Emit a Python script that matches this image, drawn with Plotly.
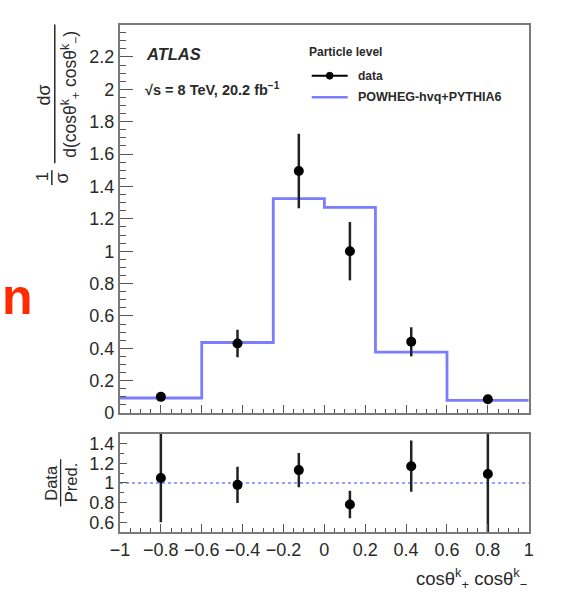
import plotly.graph_objects as go

# ---------------- data ----------------
bin_edges = [-1.0, -0.6, -0.25, 0.0, 0.25, 0.6, 1.0]
bin_centers = [-0.8, -0.425, -0.125, 0.125, 0.425, 0.8]
pred_values = [0.093, 0.436, 1.325, 1.271, 0.376, 0.078]
data_values = [0.100, 0.430, 1.495, 1.000, 0.440, 0.085]
data_errors = [0.020, 0.085, 0.230, 0.180, 0.090, 0.020]
ratio_values = [1.05, 0.98, 1.13, 0.78, 1.17, 1.09]
ratio_errors = [0.45, 0.185, 0.175, 0.14, 0.26, 0.70]
ratio_ref = 1.0

x_ticks = [-1, -0.8, -0.6, -0.4, -0.2, 0, 0.2, 0.4, 0.6, 0.8, 1]
x_tick_labels = ["\u22121", "\u22120.8", "\u22120.6", "\u22120.4", "\u22120.2", "0",
                 "0.2", "0.4", "0.6", "0.8", "1"]
y_ticks_top = [0, 0.2, 0.4, 0.6, 0.8, 1, 1.2, 1.4, 1.6, 1.8, 2, 2.2]
y_tick_labels_top = ["0", "0.2", "0.4", "0.6", "0.8", "1", "1.2", "1.4", "1.6", "1.8", "2", "2.2"]
y_ticks_bot = [0.6, 0.8, 1, 1.2, 1.4]
y_tick_labels_bot = ["0.6", "0.8", "1", "1.2", "1.4"]

# ---------------- geometry ----------------
W, H = 561, 605
def px(x):
    return x / W
def py(y):
    return 1 - y / H

FONT = "Liberation Sans, Arial, Helvetica, sans-serif"
TXT = "#2a2a2a"
FRAME = "#7a7a7a"
BLUE = "#7c7cff"

fig = go.Figure()

# prediction histogram (step)
fig.add_trace(go.Scatter(
    x=bin_edges, y=pred_values + [pred_values[-1]],
    mode="lines", line=dict(color=BLUE, width=2.8, shape="hv"),
    xaxis="x", yaxis="y", showlegend=False, hoverinfo="skip"))

# data points
fig.add_trace(go.Scatter(
    x=bin_centers, y=data_values, mode="markers",
    marker=dict(color="black", size=10),
    error_y=dict(type="data", array=data_errors, color="#222", thickness=2.5, width=0),
    xaxis="x", yaxis="y", showlegend=False))

# ratio reference line
fig.add_trace(go.Scatter(
    x=[bin_edges[0], bin_edges[-1]], y=[ratio_ref, ratio_ref], mode="lines",
    line=dict(color=BLUE, width=1.5, dash="dot"),
    xaxis="x2", yaxis="y2", showlegend=False, hoverinfo="skip"))

# ratio points
fig.add_trace(go.Scatter(
    x=bin_centers, y=ratio_values, mode="markers",
    marker=dict(color="black", size=10),
    error_y=dict(type="data", array=ratio_errors, color="#222", thickness=2.5, width=0),
    xaxis="x2", yaxis="y2", showlegend=False, cliponaxis=True))

xdom = [px(113), px(533)]
tickfont = dict(family=FONT, size=18, color=TXT)

common_x = dict(range=[-1, 1], domain=xdom, showgrid=False, zeroline=False,
                showline=True, mirror=True, linecolor=FRAME, linewidth=2,
                ticks="inside", tickcolor="#555", tickwidth=1,
                tickvals=x_ticks, ticktext=x_tick_labels,
                minor=dict(dtick=0.05, ticks="inside", ticklen=4, tickcolor="#555", tickwidth=1))

fig.update_layout(
    width=W, height=H,
    margin=dict(l=0, r=0, t=0, b=0),
    paper_bgcolor="white", plot_bgcolor="white",
    showlegend=False,
    xaxis=dict(**common_x, anchor="y", showticklabels=False, ticklen=8),
    yaxis=dict(range=[0, 2.4], domain=[py(420), py(25)], anchor="x",
               showgrid=False, zeroline=False, showline=True, mirror=True,
               linecolor=FRAME, linewidth=2, ticks="inside", ticklen=13,
               tickcolor="#555", tickwidth=1,
               tickvals=y_ticks_top, ticktext=y_tick_labels_top, tickfont=tickfont,
               minor=dict(dtick=0.05, ticks="inside", ticklen=6, tickcolor="#555", tickwidth=1)),
    xaxis2=dict(**common_x, anchor="y2", showticklabels=True, ticklen=8, tickfont=tickfont),
    yaxis2=dict(range=[0.5, 1.5], domain=[py(541), py(441)], anchor="x2",
                showgrid=False, zeroline=False, showline=True, mirror=True,
                linecolor=FRAME, linewidth=2, ticks="inside", ticklen=7,
                tickcolor="#555", tickwidth=1,
                tickvals=y_ticks_bot, ticktext=y_tick_labels_bot, tickfont=tickfont,
                minor=dict(dtick=0.1, ticks="inside", ticklen=4, tickcolor="#555", tickwidth=1)),
)

ann = []
shapes = []

def text(x, y, s, size, xanchor="center", yanchor="middle", angle=0, color=TXT, **kw):
    ann.append(dict(x=px(x), y=py(y), xref="paper", yref="paper", text=s,
                    showarrow=False, xanchor=xanchor, yanchor=yanchor, textangle=angle,
                    font=dict(family=FONT, size=size, color=color), **kw))

# ATLAS label
text(138, 55, "<b><i>ATLAS</i></b>", 16.5, xanchor="left")
text(137, 91, "<b>\u221as = 8 TeV, 20.2 fb<sup>\u22121</sup></b>", 14.5, xanchor="left")

# legend
text(305, 53, "<b>Particle level</b>", 12, xanchor="left")
text(355, 77, "<b>data</b>", 12, xanchor="left")
text(355, 99, "<b>POWHEG-hvq+PYTHIA6</b>", 12.5, xanchor="left")
shapes.append(dict(type="line", xref="paper", yref="paper", x0=px(310), x1=px(347),
                   y0=py(77), y1=py(77), line=dict(color="black", width=2)))
shapes.append(dict(type="circle", xref="paper", yref="paper", x0=px(325), x1=px(332),
                   y0=py(80.5), y1=py(73.5), fillcolor="black", line=dict(color="black", width=1)))
shapes.append(dict(type="line", xref="paper", yref="paper", x0=px(310), x1=px(347),
                   y0=py(99), y1=py(99), line=dict(color=BLUE, width=2.5)))

# y title (top): 1/sigma dsigma/d(...)
text(33, 180, "1", 17, angle=-90)
shapes.append(dict(type="line", xref="paper", yref="paper", x0=px(43), x1=px(43),
                   y0=py(173), y1=py(188), line=dict(color=TXT, width=1.5)))
text(53, 181, "\u03c3", 18, angle=-90)
text(35, 97, "d\u03c3", 18, angle=-90)
shapes.append(dict(type="line", xref="paper", yref="paper", x0=px(46), x1=px(46),
                   y0=py(25), y1=py(166), line=dict(color=TXT, width=1.5)))
text(62, 96, "d(cos\u03b8<sup>k</sup><sub>+</sub> cos\u03b8<sup>k</sup><sub>\u2212</sub>)", 17.5, angle=-90)

# y title (bottom): Data / Pred.
text(42, 491, "Data", 16.5, angle=-90)
shapes.append(dict(type="line", xref="paper", yref="paper", x0=px(52), x1=px(52),
                   y0=py(467), y1=py(515), line=dict(color=TXT, width=1.3)))
text(63, 491, "Pred.", 16.5, angle=-90)

# x title
text(533, 588, "cos\u03b8<sup>k</sup><sub>+</sub> cos\u03b8<sup>k</sup><sub>\u2212</sub>", 18.5, xanchor="right")

# stray red slide text
ann.append(dict(x=0, y=py(302), xref="paper", yref="paper", text="<b>n</b>",
                showarrow=False, xanchor="left", yanchor="middle", xshift=-10,
                font=dict(family=FONT, size=50, color="#ff2a00")))

fig.update_layout(annotations=ann, shapes=shapes)

fig.write_html("out.html")
